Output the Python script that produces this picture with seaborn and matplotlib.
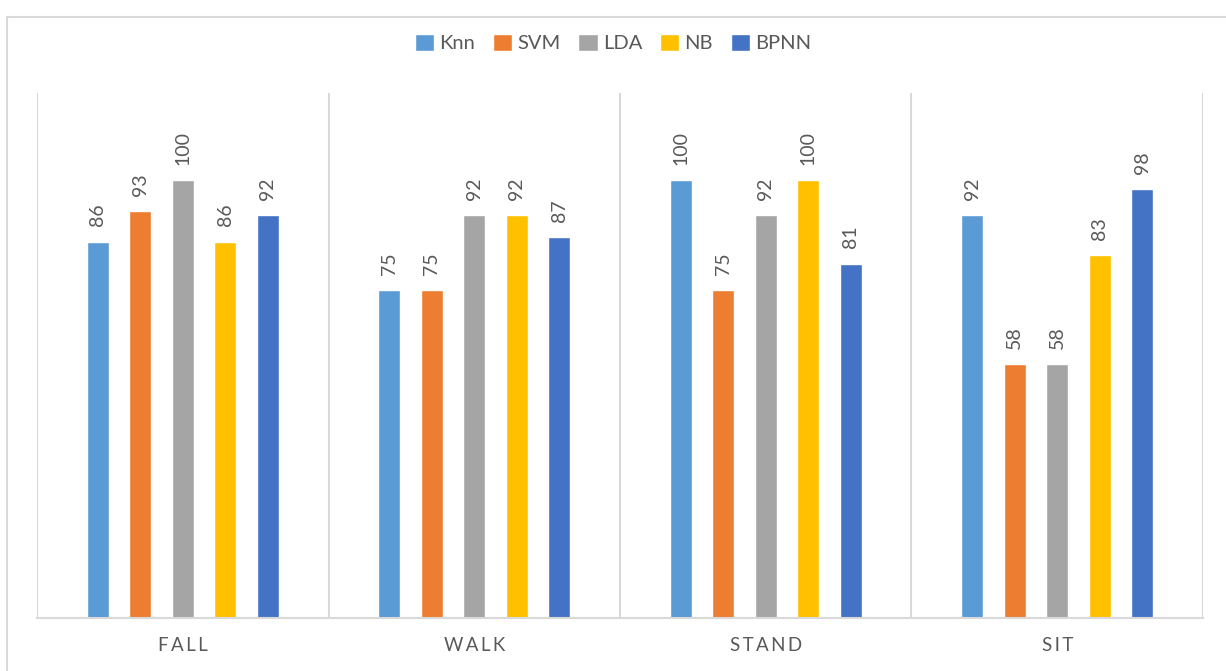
import matplotlib.pyplot as plt
import pandas as pd
import seaborn as sns
from matplotlib.patches import Rectangle

categories = ["FALL", "WALK", "STAND", "SIT"]
models = ["Knn", "SVM", "LDA", "NB", "BPNN"]
knn = [86, 75, 100, 92]
svm = [93, 75, 75, 58]
lda = [100, 92, 92, 58]
nb = [86, 92, 100, 83]
bpnn = [92, 87, 81, 98]
colors = ["#5B9BD5", "#ED7D31", "#A5A5A5", "#FFC000", "#4472C4"]
text_color = "#595959"
grid_color = "#D9D9D9"

df = pd.DataFrame({"Knn": knn, "SVM": svm, "LDA": lda, "NB": nb, "BPNN": bpnn},
                  index=categories)
long_df = df.reset_index().melt(id_vars="index", var_name="model", value_name="acc")
long_df = long_df.rename(columns={"index": "activity"})

sns.set_style("white")
plt.rcParams['font.family'] = ['Lato', 'DejaVu Sans']

fig = plt.figure(figsize=(12.26, 6.71), dpi=100)
ax = fig.add_axes([0.0302, 0.079, 0.951, 0.7824])

sns.barplot(data=long_df, x="activity", y="acc", hue="model", order=categories,
            hue_order=models, palette=colors, width=0.73, gap=0.48,
            saturation=1, ax=ax, legend=True)

for cont in ax.containers:
    ax.bar_label(cont, fmt="%d", rotation=90, padding=11, fontsize=14,
                 color=text_color)

ax.set_ylim(0, 120)
ax.set_xlim(-0.5, len(categories) - 0.5)
ax.set_yticks([])
ax.set_ylabel("")
ax.set_xlabel("")

# category separators
for i in range(len(categories) + 1):
    ax.axvline(i - 0.5, color=grid_color, lw=1.5, zorder=0)

for side in ["top", "right", "left"]:
    ax.spines[side].set_visible(False)
ax.spines["bottom"].set_color(grid_color)
ax.spines["bottom"].set_linewidth(1.5)

ax.set_xticks(range(len(categories)))
ax.set_xticklabels(["\u2009".join(c) for c in categories], fontsize=13.5,
                   color=text_color)
ax.tick_params(axis="x", length=0, pad=14)

handles, labels = ax.get_legend_handles_labels()
ax.legend_.remove()
fig.legend(handles, labels, loc="center", bbox_to_anchor=(0.5, 0.936), ncol=5,
           frameon=False, fontsize=14.5, handlelength=0.95, handleheight=0.95,
           handletextpad=0.25, columnspacing=0.9, labelcolor=text_color)

# outer chart border
fig.patches.append(Rectangle((7 / 1226, -0.01), 1.05, 0.985,
                             transform=fig.transFigure, fill=False,
                             edgecolor=grid_color, lw=1.5))

fig.savefig("out.png", dpi=100)
